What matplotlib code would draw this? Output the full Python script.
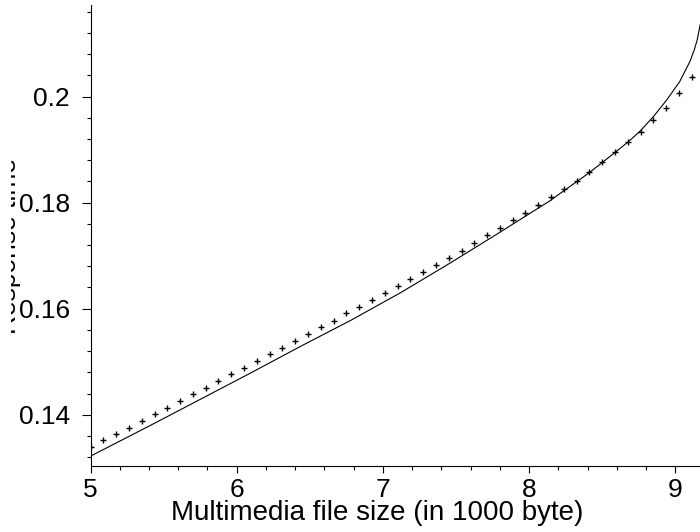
import numpy as np
import matplotlib
matplotlib.use("Agg")
import matplotlib.pyplot as plt
from matplotlib.transforms import Bbox, TransformedBbox

plt.rcParams['font.family'] = ['Liberation Sans', 'DejaVu Sans']

# measured response times (plus markers)
size_pts = [5.000, 5.088, 5.175, 5.263, 5.350, 5.438, 5.525, 5.613, 5.700, 5.788,
            5.875, 5.963, 6.050, 6.138, 6.225, 6.313, 6.400, 6.488, 6.575, 6.663,
            6.750, 6.838, 6.925, 7.013, 7.100, 7.188, 7.275, 7.363, 7.450, 7.538,
            7.625, 7.713, 7.800, 7.888, 7.975, 8.063, 8.150, 8.238, 8.325, 8.413,
            8.500, 8.588, 8.675, 8.763, 8.850, 8.938, 9.025, 9.113]
resp_pts = [0.1340, 0.1353, 0.1364, 0.1376, 0.1389, 0.1402, 0.1413, 0.1426, 0.1439, 0.1451,
            0.1464, 0.1476, 0.1489, 0.1502, 0.1515, 0.1526, 0.1540, 0.1552, 0.1565, 0.1577,
            0.1591, 0.1603, 0.1616, 0.1629, 0.1642, 0.1656, 0.1669, 0.1682, 0.1696, 0.1709,
            0.1723, 0.1738, 0.1752, 0.1767, 0.1780, 0.1796, 0.1810, 0.1826, 0.1841, 0.1858,
            0.1876, 0.1895, 0.1914, 0.1933, 0.1956, 0.1979, 0.2007, 0.2037]

# model curve (solid line)
size_model = [5.0, 5.41, 5.75, 6.09, 6.43, 6.78, 7.12, 7.46, 7.80, 8.14,
              8.41, 8.59, 8.68, 8.76, 8.85, 8.94, 9.03, 9.10, 9.13, 9.15, 9.17]
resp_model = [0.1322, 0.1380, 0.1429, 0.1478, 0.1528, 0.1578, 0.1630, 0.1686, 0.1744, 0.1803,
              0.1856, 0.1895, 0.1915, 0.1935, 0.1962, 0.1993, 0.2028, 0.2066, 0.2088, 0.2107, 0.2135]

xticks = [5, 6, 7, 8, 9]
yticks = [0.14, 0.16, 0.18, 0.2]
ytick_labels = ["0.14", "0.16", "0.18", "0.2"]

W, H = 700, 532
fig = plt.figure(figsize=(W / 100, H / 100), dpi=100)
ax = fig.add_axes([90.5 / W, (H - 465.7) / H, 1 - 90.5 / W, (465.7 - 5) / H])

ax.plot(size_model, resp_model, color='black', lw=0.8)
ax.plot(size_pts, resp_pts, linestyle='none', marker='+', color='black',
        markersize=4, markeredgewidth=1.0)

ax.set_xlim(5, 9.169)
ax.set_ylim(0.1304, 0.21725)

for s in ['top', 'right']:
    ax.spines[s].set_visible(False)
for s in ['left', 'bottom']:
    ax.spines[s].set_linewidth(0.8)

ax.set_xticks(xticks)
ax.set_xticks(np.arange(5, 9.2, 0.2), minor=True)
ax.set_yticks(yticks)
ax.set_yticklabels(ytick_labels)
ax.set_yticks(np.arange(0.132, 0.2175, 0.004), minor=True)

ax.tick_params(axis='x', which='major', length=5, width=0.8, pad=4, labelsize=19)
ax.tick_params(axis='x', which='minor', length=2.8, width=0.8)
ax.tick_params(axis='y', which='major', length=6.5, width=0.8, pad=8.5, labelsize=19)
ax.tick_params(axis='y', which='minor', length=2.9, width=0.8)

# x axis title
fig.text(377.5 / W, 1 - 520 / H, "Multimedia file size (in 1000 byte)",
         ha='center', va='baseline', fontsize=20)

# y axis title, mostly cut off at the left edge
ylab = fig.text(16.5 / W, 1 - 246 / H, "Response time", rotation=90,
                rotation_mode='anchor', ha='center', va='baseline', fontsize=19)
ylab.set_clip_box(TransformedBbox(Bbox([[0.11, 0], [0.30, H / 100]]), fig.dpi_scale_trans))
ylab.set_clip_on(True)

fig.savefig("out.png", dpi=100)
